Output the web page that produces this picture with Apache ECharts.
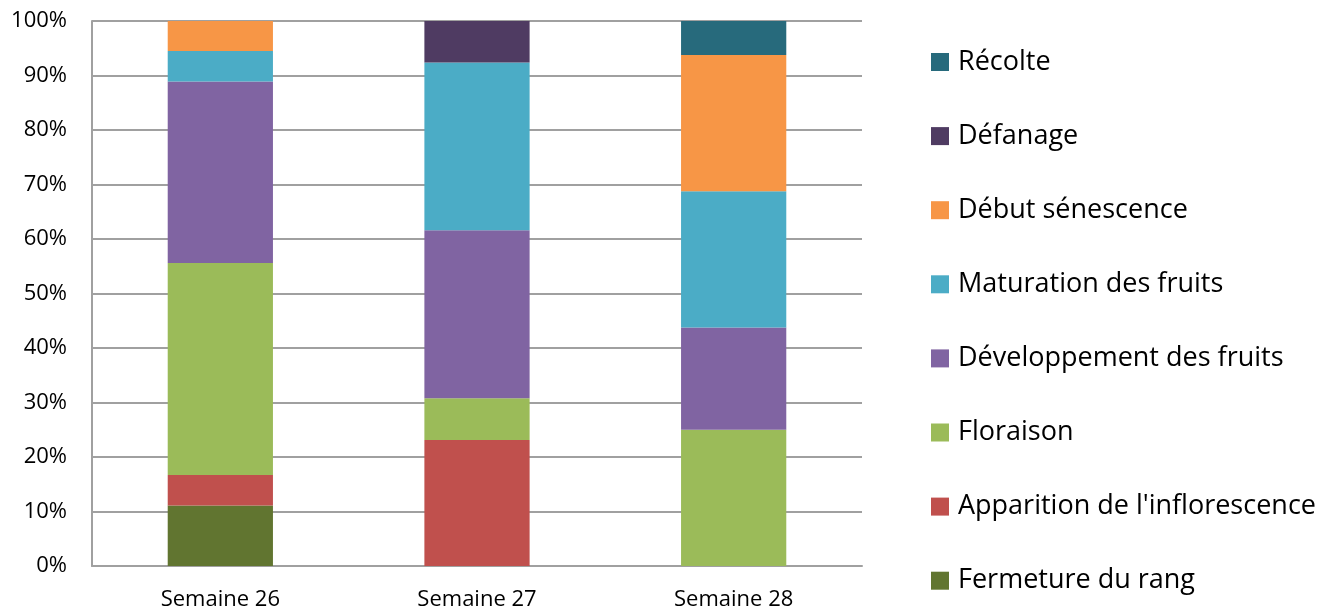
<!DOCTYPE html>
<html>
<head>
<meta charset="utf-8">
<script src="https://cdn.jsdelivr.net/npm/echarts@6/dist/echarts.min.js"></script>
<style>
  html, body { margin: 0; padding: 0; background: #fff; }
  #chart { width: 1342px; height: 611px; }
</style>
</head>
<body>
<div id="chart"></div>
<script>
// Weeks on the x axis
const categories = ['Semaine 26', 'Semaine 27', 'Semaine 28'];

// Share of plots (%) at each growth stage, per week
const fermeture     = [11.1, 0, 0];
const apparition    = [5.6, 23.1, 0];
const floraison     = [38.9, 7.7, 25.0];
const developpement = [33.3, 30.8, 18.75];
const maturation    = [5.6, 30.8, 25.0];
const debutSenesc   = [5.5, 0, 25.0];
const defanage      = [0, 7.6, 0];
const recolte       = [0, 0, 6.25];

const yTicks = [0, 10, 20, 30, 40, 50, 60, 70, 80, 90, 100];

const stages = [
  { name: 'Fermeture du rang', data: fermeture, color: '#617530' },
  { name: "Apparition de l'inflorescence", data: apparition, color: '#c0504d' },
  { name: 'Floraison', data: floraison, color: '#9bbb59' },
  { name: 'Développement des fruits', data: developpement, color: '#8064a2' },
  { name: 'Maturation des fruits', data: maturation, color: '#4bacc6' },
  { name: 'Début sénescence', data: debutSenesc, color: '#f79646' },
  { name: 'Défanage', data: defanage, color: '#4f3b62' },
  { name: 'Récolte', data: recolte, color: '#276a7c' }
];

const font = "'Open Sans', 'Liberation Sans', sans-serif";

const chart = echarts.init(document.getElementById('chart'), null, { renderer: 'canvas' });
chart.setOption({
  animation: false,
  backgroundColor: '#ffffff',
  grid: { left: 92, right: 480, top: 21, bottom: 44, containLabel: false },
  legend: {
    orient: 'vertical',
    left: 931,
    top: 47,
    padding: 0,
    itemWidth: 18,
    itemHeight: 18,
    itemGap: 44.1,
    icon: 'rect',
    data: stages.map(s => s.name).reverse(),
    textStyle: { fontFamily: font, fontSize: 27, color: '#000', lineHeight: 30, padding: [0, 0, 0, 4] }
  },
  xAxis: {
    type: 'category',
    data: categories,
    axisLine: { show: true, lineStyle: { color: '#a0a0a0', width: 2 } },
    axisTick: { show: false },
    axisLabel: { fontFamily: font, fontSize: 22, color: '#000', margin: 23 }
  },
  yAxis: {
    type: 'value',
    min: 0,
    max: 100,
    interval: 10,
    axisLine: { show: true, lineStyle: { color: '#a0a0a0', width: 2 } },
    axisTick: { show: false },
    splitLine: { lineStyle: { color: '#a0a0a0', width: 2 } },
    axisLabel: {
      fontFamily: font, fontSize: 22, color: '#000', margin: 25,
      formatter: v => (yTicks.includes(v) ? v + '%' : '')
    }
  },
  series: stages.map(s => ({
    name: s.name,
    type: 'bar',
    stack: 'total',
    data: s.data,
    barWidth: '41%',
    itemStyle: { color: s.color },
    emphasis: { disabled: true }
  }))
});
</script>
</body>
</html>
